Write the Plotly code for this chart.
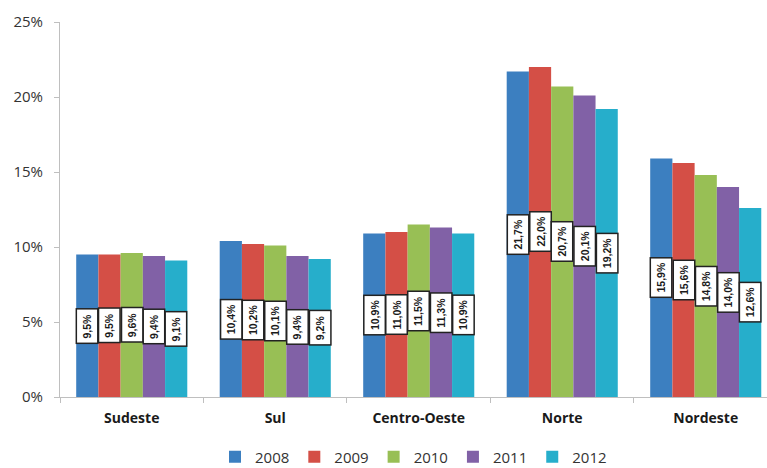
import plotly.graph_objects as go

regions = ["Sudeste", "Sul", "Centro-Oeste", "Norte", "Nordeste"]
years = ["2008", "2009", "2010", "2011", "2012"]
values = {
    "2008": [9.5, 10.4, 10.9, 21.7, 15.9],
    "2009": [9.5, 10.2, 11.0, 22.0, 15.6],
    "2010": [9.6, 10.1, 11.5, 20.7, 14.8],
    "2011": [9.4, 9.4, 11.3, 20.1, 14.0],
    "2012": [9.1, 9.2, 10.9, 19.2, 12.6],
}
colors = {
    "2008": "#3C7FC0",
    "2009": "#D44F46",
    "2010": "#98BF55",
    "2011": "#8161A6",
    "2012": "#26AECB",
}
y_ticks = [0, 5, 10, 15, 20, 25]
y_tick_text = [f"{t}%" for t in y_ticks]

bargap = 0.226
n = len(years)
bar_w = (1 - bargap) / n

fig = go.Figure()
for y in years:
    fig.add_trace(go.Bar(
        x=regions, y=values[y], name=y,
        marker=dict(color=colors[y], line=dict(width=0)),
    ))

# value labels: rotated white boxes at mid-height of each bar
for j, y in enumerate(years):
    off = (j - (n - 1) / 2) * bar_w
    for i, v in enumerate(values[y]):
        fig.add_annotation(
            x=i + off, y=v / 2, xref="x", yref="y",
            text="<b>" + f"{v:.1f}".replace(".", ",") + "%</b>",
            textangle=-90, showarrow=False,
            font=dict(family="Liberation Sans", size=10.5, color="#1a1a1a"),
            bgcolor="white", bordercolor="#222222", borderwidth=1.5, borderpad=4,
        )

fig.update_layout(
    width=767, height=468,
    margin=dict(l=60, r=0, t=22, b=71, autoexpand=False),
    paper_bgcolor="white", plot_bgcolor="white",
    barmode="group", bargap=bargap, bargroupgap=0,
    font=dict(family="Open Sans", color="#333333"),
    showlegend=True,
    legend=dict(orientation="h", x=0.5, xanchor="center", xref="paper",
                y=-0.16, yanchor="middle",
                font=dict(size=15, color="#333333"),
                traceorder="normal", itemwidth=30),
    xaxis=dict(
        type="category",
        range=[-0.5, 4.427],
        tickfont=dict(size=14, color="#1a1a1a", weight="bold"),
        tickson="boundaries",
        showline=True, linecolor="#BFBFBF", linewidth=1,
        ticks="outside", ticklen=5, tickcolor="#BFBFBF",
        ticklabelstandoff=8,
        showgrid=False, zeroline=False,
    ),
    yaxis=dict(
        range=[0, 25], tickmode="array", tickvals=y_ticks, ticktext=y_tick_text,
        tickfont=dict(size=15, color="#333333"),
        showline=True, linecolor="#BFBFBF", linewidth=1,
        ticks="outside", ticklen=5, tickcolor="#BFBFBF",
        ticklabelstandoff=8,
        showgrid=False, zeroline=False,
    ),
)
fig.write_html("out.html")
